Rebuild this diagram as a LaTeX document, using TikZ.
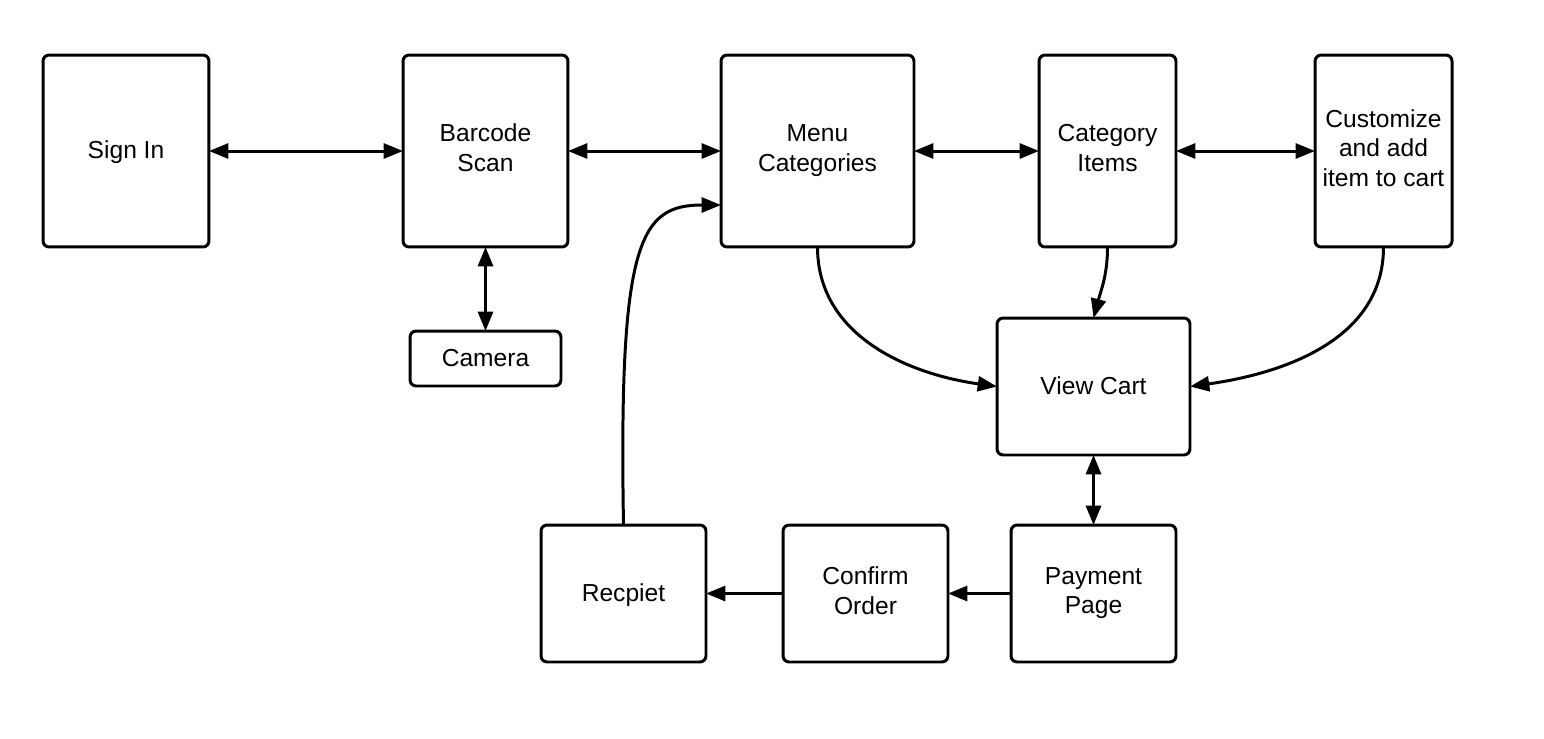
\documentclass[tikz,border=0pt]{standalone}
\usepackage{fontspec}
\setmainfont{Liberation Sans}
\usetikzlibrary{calc,arrows.meta}

\begin{document}
\begin{tikzpicture}[x=0.02cm,y=0.02cm,
    screen/.style={draw,line width=1.7pt,rounded corners=3.5pt,align=center,
      font=\fontsize{14pt}{17pt}\selectfont,inner sep=0pt,outer sep=0pt,
      execute at begin node={\rule{0pt}{12pt}},
      execute at end node={\rule[-3.4pt]{0pt}{3.4pt}}},
    link/.style={line width=1.7pt,>={Triangle[length=11pt,width=8.5pt]}}]
  \useasboundingbox (0,0) rectangle (1544,-738);

  %% Top row of screens
  \node[screen,minimum width=3.32cm,minimum height=3.84cm] (SI) at (126,-151) {Sign In};
  \node[screen,minimum width=3.30cm,minimum height=3.84cm] (BS) at (485.5,-151) {Barcode\\Scan};
  \node[screen,minimum width=3.86cm,minimum height=3.84cm] (MC) at (817.5,-151) {Menu\\Categories};
  \node[screen,minimum width=2.74cm,minimum height=3.84cm] (CI) at (1107.5,-151) {Category\\Items};
  \node[screen,minimum width=2.74cm,minimum height=3.84cm] (CU) at (1383.5,-151) {Customize\\and add\\item to cart};

  %% Camera and cart
  \node[screen,minimum width=3.02cm,minimum height=1.10cm] (CAM) at (485.5,-358.5) {Camera};
  \node[screen,minimum width=3.86cm,minimum height=2.74cm] (VC) at (1093.5,-386.5) {View Cart};

  %% Bottom row of screens
  \node[screen,minimum width=3.30cm,minimum height=2.74cm] (RC) at (623.5,-593.5) {Recpiet};
  \node[screen,minimum width=3.30cm,minimum height=2.74cm] (CO) at (865.5,-593.5) {Confirm\\Order};
  \node[screen,minimum width=3.30cm,minimum height=2.74cm] (PP) at (1093.5,-593.5) {Payment\\Page};

  %% Two-way links
  \foreach \a/\b in {SI/BS,BS/MC,MC/CI,CI/CU}
  {
    \draw[link,<->] (\a.east) -- (\b.west);
  }
  \draw[link,<->] (BS.south) -- (CAM.north);
  \draw[link,<->] (VC.south) -- (PP.north);

  %% Links to the cart
  \draw[link,->] (MC.south) to[out=-90,in=172] (VC.west);
  \draw[link,->] (CI.south) to[out=-90,in=75] (VC.north);
  \draw[link,->] (CU.south) to[out=-90,in=8] (VC.east);

  %% Checkout
  \draw[link,->] (PP.west) -- (CO.east);
  \draw[link,->] (CO.west) -- (RC.east);
  \draw[link,->] (RC.north) .. controls +(-5,285) and +(-81,0) .. ([yshift=-1.08cm]MC.west);
\end{tikzpicture}
\end{document}
